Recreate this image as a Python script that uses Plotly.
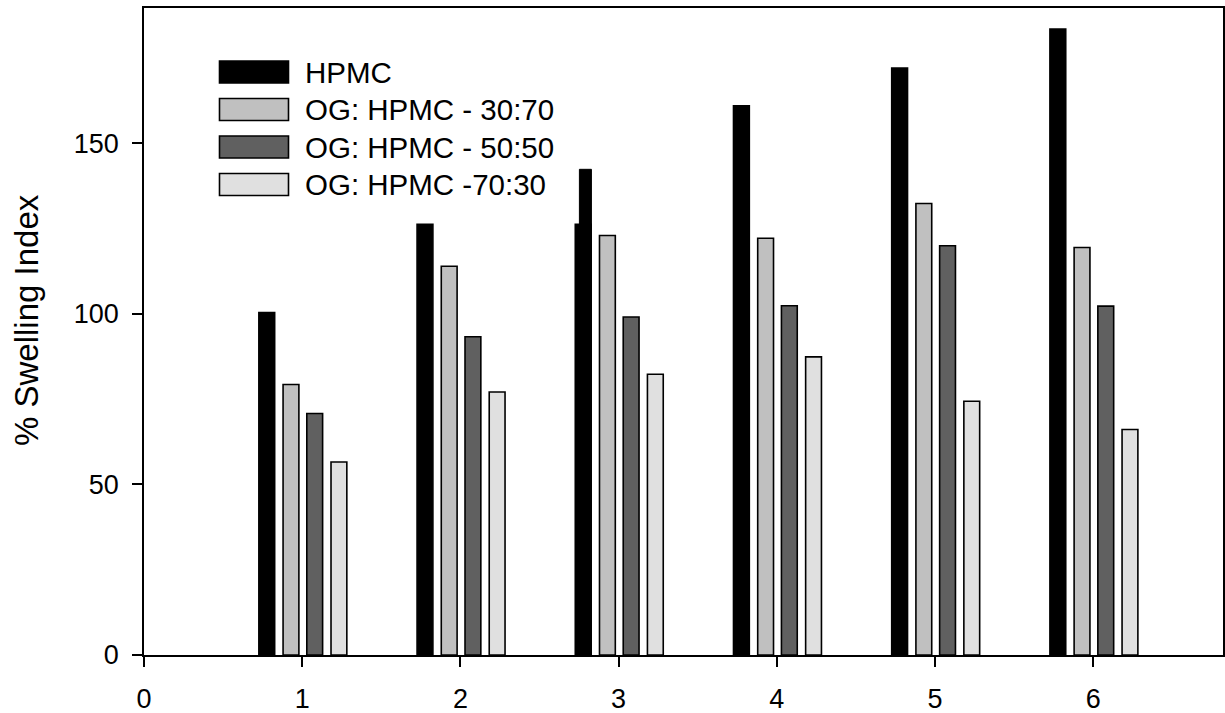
import plotly.graph_objects as go

# ---- data ----
categories = [1, 2, 3, 4, 5, 6]
hpmc = [100.4, 126.3, 126.3, 161.0, 172.1, 183.5]
og_30_70 = [79.3, 114.0, 123.0, 122.2, 132.4, 119.5]
og_50_50 = [70.8, 93.3, 99.1, 102.4, 120.0, 102.3]
og_70_30 = [56.6, 77.1, 82.3, 87.4, 74.4, 66.1]
# a second, slightly shifted HPMC bar visible behind group 3 in the original
hpmc_extra_x = [3]
hpmc_extra_y = [142.4]

series_names = ["HPMC", "OG: HPMC - 30:70", "OG: HPMC - 50:50", "OG: HPMC -70:30"]
x_ticks = [0, 1, 2, 3, 4, 5, 6]
y_ticks = [0, 50, 100, 150]
y_title = "% Swelling Index"

# ---- styles ----
FONT = "Liberation Sans, Arial, sans-serif"
colors = ["#000000", "#c0c0c0", "#606060", "#e0e0e0"]
offsets = [-0.274, -0.121, 0.029, 0.182]
BAR_W = 0.1

fig = go.Figure()

fig.add_trace(go.Bar(
    x=hpmc_extra_x, y=hpmc_extra_y, width=0.076, offset=-0.248,
    marker=dict(color="#000000", line=dict(color="#000000", width=1)),
    showlegend=False, name="HPMC",
))

for vals, name, col, off in zip([hpmc, og_30_70, og_50_50, og_70_30],
                                series_names, colors, offsets):
    fig.add_trace(go.Bar(
        x=categories, y=vals, name=name, width=BAR_W, offset=off,
        marker=dict(color=col, line=dict(color="#000000", width=1.6)),
        showlegend=False,
    ))

# ---- custom legend (large swatches like the original) ----
W, H = 1225, 713
L, R, T, B = 144, 2, 8, 58
pw, ph = W - L - R, H - T - B

def px2paper(px, py):
    return (px - L) / pw, 1 - (py - T) / ph

row_centers = [72, 109.5, 147, 184.5]
for name, col, cy in zip(series_names, colors, row_centers):
    x0, y0 = px2paper(219.5, cy - 11)
    x1, y1 = px2paper(288.5, cy + 11)
    fig.add_shape(type="rect", xref="paper", yref="paper",
                  x0=x0, x1=x1, y0=y1, y1=y0,
                  fillcolor=col, line=dict(color="#000000", width=1.6))
    tx, ty = px2paper(303, cy)
    fig.add_annotation(xref="paper", yref="paper", x=tx, y=ty,
                       text=name, showarrow=False, xanchor="left",
                       yanchor="middle",
                       font=dict(family=FONT, size=29.5, color="#000000"))

# y-axis title as a rotated annotation (placed like the original)
tx, ty = px2paper(26, 320)
fig.add_annotation(xref="paper", yref="paper", x=tx, y=ty, text=y_title,
                   textangle=-90, showarrow=False, xanchor="center",
                   yanchor="middle",
                   font=dict(family=FONT, size=33, color="#000000"))

fig.update_layout(
    width=W, height=H,
    margin=dict(l=L, r=R, t=T, b=B, autoexpand=False),
    barmode="overlay",
    plot_bgcolor="white", paper_bgcolor="white",
    font=dict(family=FONT, size=27, color="#000000"),
    showlegend=False,
)

fig.update_xaxes(
    range=[0, 6.82], tickmode="array", tickvals=x_ticks,
    ticks="outside", ticklen=10, tickwidth=1.5, tickcolor="#000000",
    showline=True, linecolor="#000000", linewidth=1.5, mirror=True,
    showgrid=False, zeroline=False, ticklabelstandoff=9,
    tickfont=dict(family=FONT, size=27, color="#000000"),
)
fig.update_yaxes(
    range=[0, 189.7], tickmode="array", tickvals=y_ticks,
    ticks="outside", ticklen=10, tickwidth=1.5, tickcolor="#000000",
    showline=True, linecolor="#000000", linewidth=1.5, mirror=True,
    showgrid=False, zeroline=False, ticklabelstandoff=8,
    tickfont=dict(family=FONT, size=27, color="#000000"),
)

fig.write_html("out.html")
